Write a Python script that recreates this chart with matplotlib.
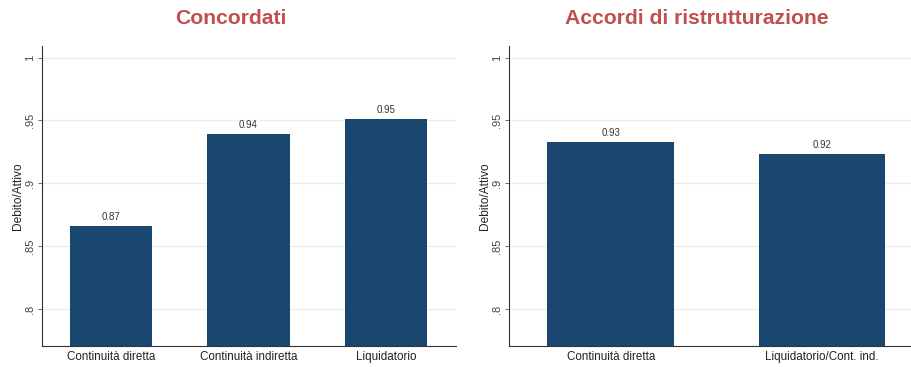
import matplotlib
matplotlib.use("Agg")
import matplotlib.pyplot as plt

plt.rcParams['font.family'] = ['Liberation Sans', 'DejaVu Sans']

# Data
conc_categories = ["Continuità diretta", "Continuità indiretta", "Liquidatorio"]
conc_values = [0.866, 0.939, 0.951]
acc_categories = ["Continuità diretta", "Liquidatorio/Cont. ind."]
acc_values = [0.933, 0.923]
y_ticks = [0.8, 0.85, 0.9, 0.95, 1.0]
y_tick_labels = [".8", ".85", ".9", ".95", "1"]
titles = ["Concordati", "Accordi di ristrutturazione"]
y_label = "Debito/Attivo"

BAR = "#1a476f"
TITLE_RED = "#c0504d"
GRID = "#ececec"
YMIN, YMAX = 0.7705, 1.0093

fig = plt.figure(figsize=(9.12, 3.67), dpi=100)
ax1 = fig.add_axes([0.046, 0.0572, 0.454, 0.8175])
ax2 = fig.add_axes([0.5585, 0.0572, 0.4415, 0.8175])


def draw(ax, cats, vals, xlim):
    x = list(range(len(cats)))
    ax.bar(x, [v - YMIN for v in vals], bottom=YMIN, width=0.6, color=BAR, zorder=3)
    for xi, v in zip(x, vals):
        ax.annotate(f"{v:.2f}", (xi, v), xytext=(0, 3), textcoords="offset points",
                    ha="center", va="bottom", fontsize=7, color="#333333")
    ax.set_ylim(YMIN, YMAX)
    ax.set_xlim(*xlim)
    ax.set_yticks(y_ticks)
    ax.set_yticklabels(y_tick_labels, rotation=90, va="center", fontsize=8, color="#444444")
    ax.set_xticks(x)
    ax.set_xticklabels(cats, fontsize=8.4, color="#222222")
    ax.tick_params(axis="x", length=0, pad=3.5)
    ax.tick_params(axis="y", length=3, width=0.6, color="#555555", pad=2)
    ax.grid(axis="y", color=GRID, linewidth=0.8, zorder=0)
    for s in ("top", "right"):
        ax.spines[s].set_visible(False)
    for s in ("left", "bottom"):
        ax.spines[s].set_linewidth(0.8)
        ax.spines[s].set_color("#333333")
    ax.set_ylabel(y_label, fontsize=8.6, color="#222222", labelpad=1)


draw(ax1, conc_categories, conc_values, (-0.502, 2.509))
draw(ax2, acc_categories, acc_values, (-0.48, 1.426))

fig.text(0.2532, 0.9346, titles[0], ha="center", va="baseline", fontsize=15.2,
         fontweight="bold", color=TITLE_RED)
fig.text(0.7643, 0.9346, titles[1], ha="center", va="baseline", fontsize=15.2,
         fontweight="bold", color=TITLE_RED)

fig.savefig("out.png", dpi=100, facecolor="white")
